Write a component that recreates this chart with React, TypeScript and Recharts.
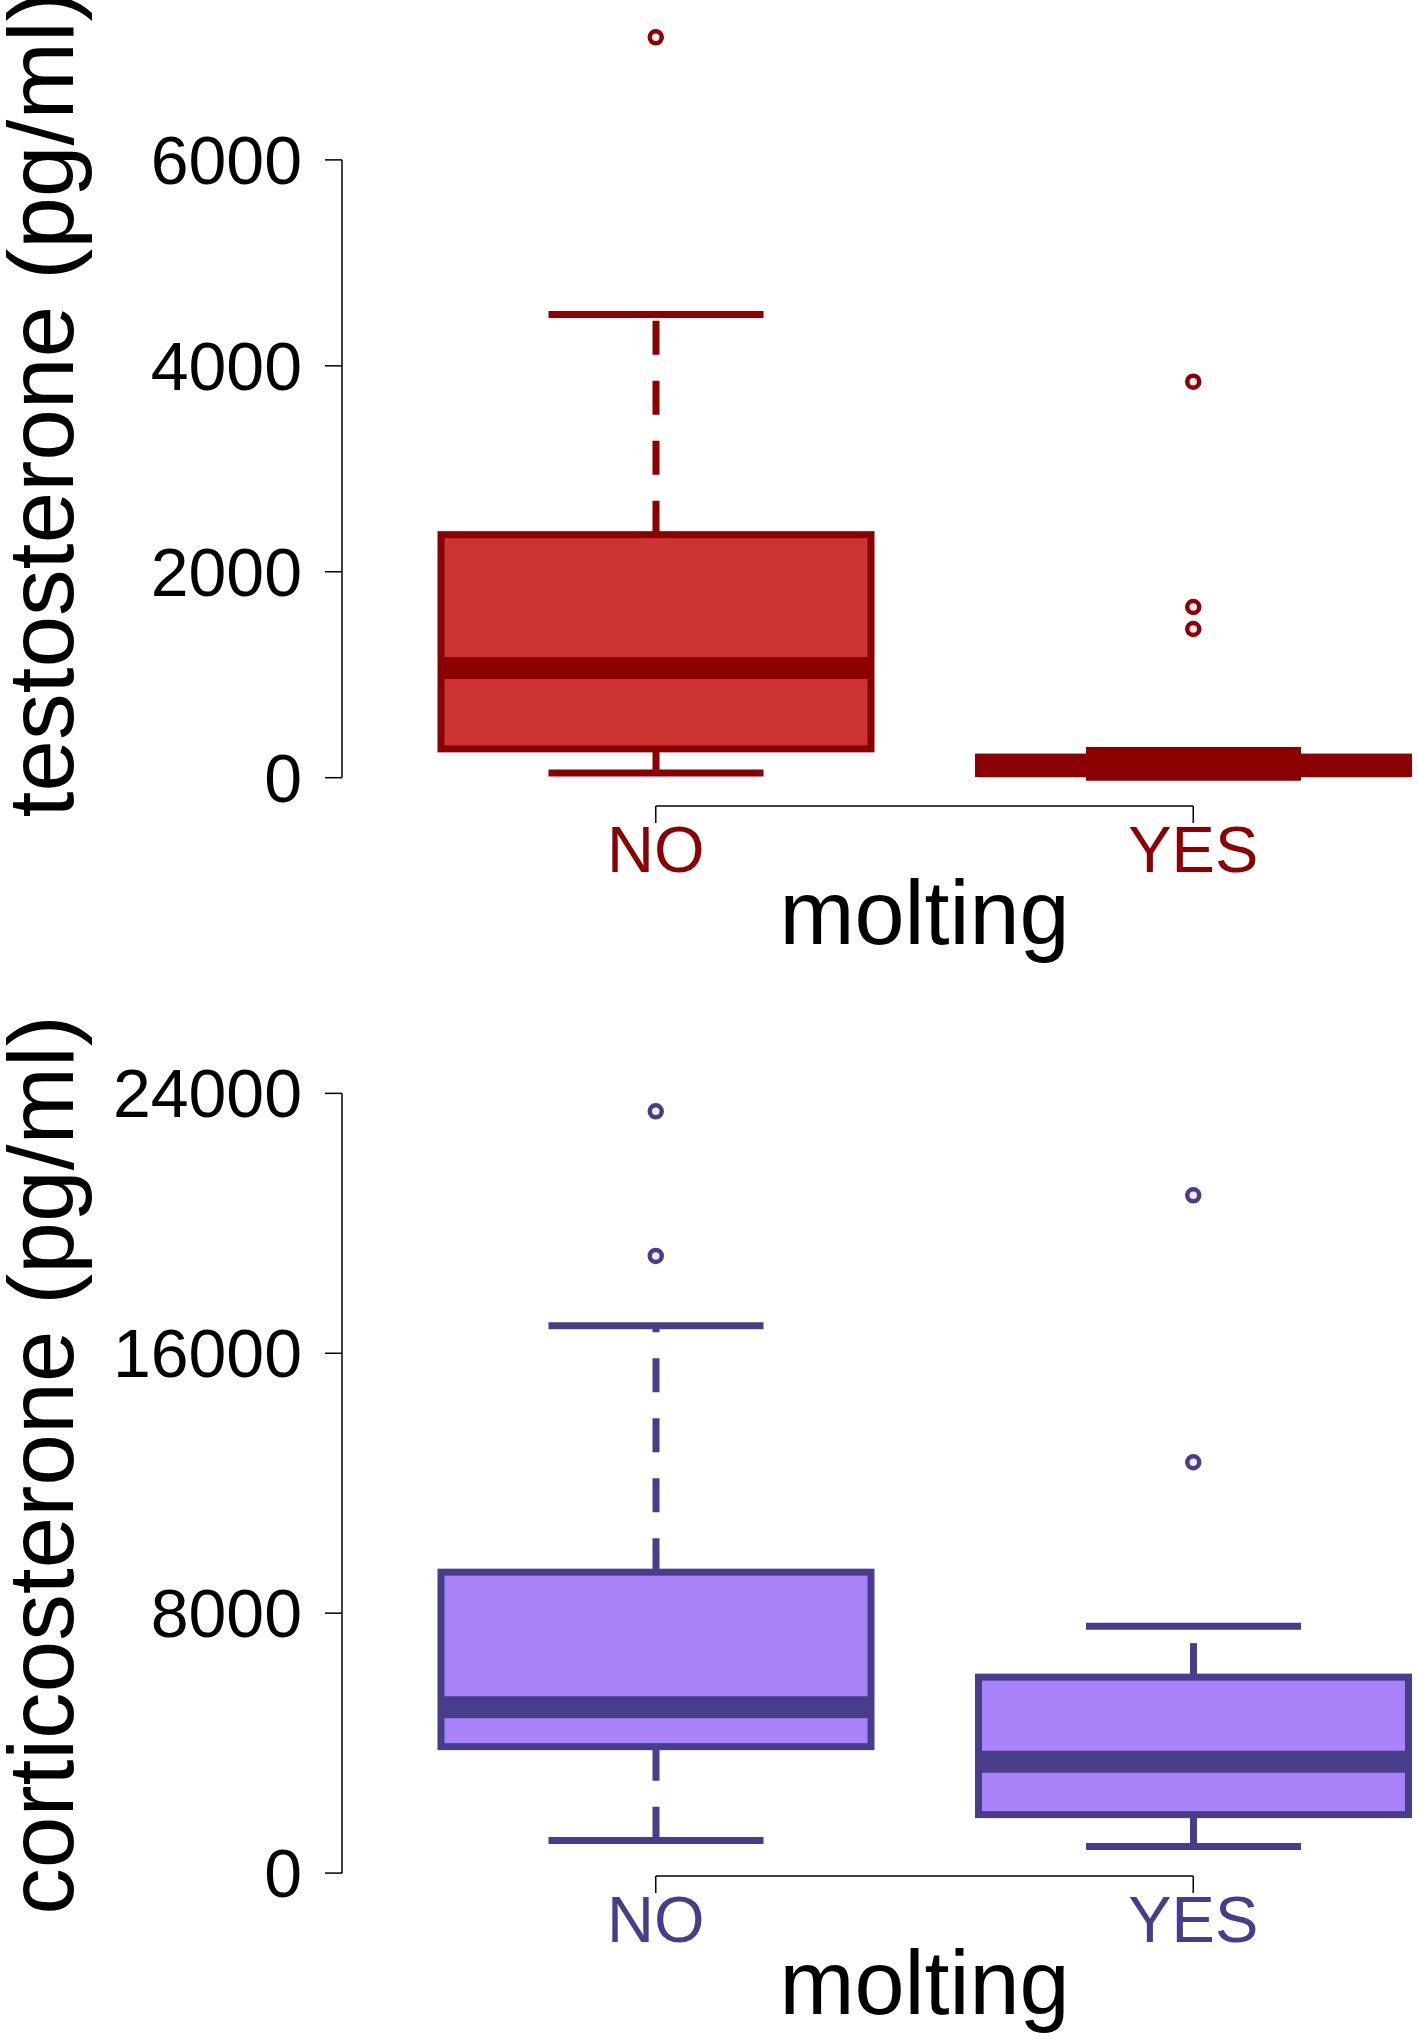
import React from 'react';
import { ComposedChart, Bar, Scatter, XAxis, YAxis, ReferenceLine } from 'recharts';

const groups = ['NO', 'YES'];

// testosterone (pg/ml), boxplot stats per group
const testoLow = [45, 5];
const testoQ1 = [280, 40];
const testoMedian = [1065, 110];
const testoQ3 = [2360, 200];
const testoHigh = [4498, 265];
const testoOutliers = [
  { name: 'NO', value: 7190 },
  { name: 'YES', value: 3846 },
  { name: 'YES', value: 1658 },
  { name: 'YES', value: 1444 },
];
const testoTicks = [0, 2000, 4000, 6000];

// corticosterone (pg/ml)
const cortLow = [1000, 815];
const cortQ1 = [3892, 1800];
const cortMedian = [5108, 3428];
const cortQ3 = [9262, 6031];
const cortHigh = [16849, 7600];
const cortOutliers = [
  { name: 'NO', value: 23446 },
  { name: 'NO', value: 18997 },
  { name: 'YES', value: 20862 },
  { name: 'YES', value: 12646 },
];
const cortTicks = [0, 8000, 16000, 24000];

const FONT = '"Liberation Sans", Arial, sans-serif';

const buildRows = (low: number[], q1: number[], med: number[], q3: number[], high: number[]) =>
  groups.map((name, i) => ({
    name,
    low: low[i],
    q1: q1[i],
    median: med[i],
    q3: q3[i],
    high: high[i],
    base: q1[i],
    iqr: q3[i] - q1[i],
  }));

const testoRows = buildRows(testoLow, testoQ1, testoMedian, testoQ3, testoHigh);
const cortRows = buildRows(cortLow, cortQ1, cortMedian, cortQ3, cortHigh);

const makeBox = (fill: string, line: string) => (props: any) => {
  const { x, y, width, height, payload } = props;
  const k = height / (payload.q3 - payload.q1);
  const yOf = (v: number) => y + (payload.q3 - v) * k;
  const cx = x + width / 2;
  const capHalf = width / 4;
  return (
    <g>
      <line x1={cx} x2={cx} y1={yOf(payload.q3)} y2={yOf(payload.high)} stroke={line} strokeWidth={7} strokeDasharray="34 26" />
      <line x1={cx} x2={cx} y1={yOf(payload.q1)} y2={yOf(payload.low)} stroke={line} strokeWidth={7} strokeDasharray="34 26" />
      <line x1={cx - capHalf} x2={cx + capHalf} y1={yOf(payload.high)} y2={yOf(payload.high)} stroke={line} strokeWidth={7} />
      <line x1={cx - capHalf} x2={cx + capHalf} y1={yOf(payload.low)} y2={yOf(payload.low)} stroke={line} strokeWidth={7} />
      <rect x={x} y={y} width={width} height={Math.max(height, 0.5)} fill={fill} stroke={line} strokeWidth={7} />
      <line x1={x} x2={x + width} y1={yOf(payload.median)} y2={yOf(payload.median)} stroke={line} strokeWidth={22} />
    </g>
  );
};

const makeDot = (line: string) => (props: any) => (
  <circle cx={props.cx} cy={props.cy} r={6} fill="#f4e8f0" stroke={line} strokeWidth={4.5} />
);

const YTick = (props: any) => (
  <text x={props.x} y={props.y} dy={24} textAnchor="end" fontSize={68} fontFamily={FONT} fill="#000">
    {props.payload.value}
  </text>
);

const makeXTick = (color: string) => (props: any) => (
  <text x={props.x} y={props.y} dy={49} textAnchor="middle" fontSize={65} fontFamily={FONT} fill={color}>
    {props.payload.value}
  </text>
);

const YTitle = ({ text, cy }: { text: string; cy: number }) => (
  <text
    x={73}
    y={cy}
    transform={`rotate(-90, 73, ${cy})`}
    textAnchor="middle"
    fontSize={93}
    fontFamily={FONT}
    fill="#000"
  >
    {text}
  </text>
);

const XTitle = (props: any) => {
  const vb = props.viewBox;
  return (
    <text x={vb.x + 45 + (vb.width - 45) / 2} y={vb.y + 138} textAnchor="middle" fontSize={90} fontFamily={FONT} fill="#000">
      molting
    </text>
  );
};

interface PanelProps {
  rows: any[];
  outliers: { name: string; value: number }[];
  ticks: number[];
  domain: [number, number];
  height: number;
  top: number;
  xAxisHeight: number;
  fill: string;
  line: string;
  title: string;
  titleY: number;
}

function Panel(p: PanelProps) {
  return (
    <ComposedChart
      width={1462}
      height={p.height}
      data={p.rows}
      margin={{ top: p.top, right: 0, bottom: 0, left: 0 }}
      barSize={430}
    >
      <XAxis
        dataKey="name"
        type="category"
        allowDuplicatedCategory={false}
        padding={{ left: 45, right: 0 }}
        height={p.xAxisHeight}
        axisLine={false}
        tickSize={17}
        tickMargin={0}
        tickLine={{ stroke: '#000', strokeWidth: 1.5 }}
        tick={makeXTick(p.line)}
        label={<XTitle />}
      />
      <XAxis xAxisId="num" type="number" domain={[0, 1]} hide allowDataOverflow />
      <YAxis
        type="number"
        width={342}
        domain={p.domain}
        ticks={p.ticks}
        allowDataOverflow
        axisLine={false}
        tickSize={17}
        tickMargin={23}
        tickLine={{ stroke: '#000', strokeWidth: 1.5 }}
        tick={<YTick />}
        label={<YTitle text={p.title} cy={p.titleY} />}
      />
      <ReferenceLine
        xAxisId="num"
        segment={[{ x: 0, y: p.ticks[0] }, { x: 0, y: p.ticks[p.ticks.length - 1] }]}
        stroke="#000"
        strokeWidth={1.5}
        ifOverflow="visible"
      />
      <ReferenceLine
        segment={[{ x: groups[0], y: p.domain[0] }, { x: groups[1], y: p.domain[0] }]}
        stroke="#000"
        strokeWidth={1.5}
        ifOverflow="visible"
      />
      <Bar dataKey="base" stackId="box" fill="none" isAnimationActive={false} />
      <Bar dataKey="iqr" stackId="box" shape={makeBox(p.fill, p.line)} isAnimationActive={false} />
      <Scatter data={p.outliers} dataKey="value" shape={makeDot(p.line)} isAnimationActive={false} />
    </ComposedChart>
  );
}

export default function App() {
  return (
    <div style={{ position: 'absolute', left: 0, top: 0, width: 1418, height: 2041, overflow: 'hidden', background: '#fff' }}>
      <div style={{ position: 'absolute', left: 0, top: 0 }}>
        <Panel
          rows={testoRows}
          outliers={testoOutliers}
          ticks={testoTicks}
          domain={[-275, 7475]}
          height={1000}
          top={8}
          xAxisHeight={194}
          fill="#CD3333"
          line="#8B0000"
          title="testosterone (pg/ml)"
          titleY={404}
        />
      </div>
      <div style={{ position: 'absolute', left: 0, top: 1000 }}>
        <Panel
          rows={cortRows}
          outliers={cortOutliers}
          ticks={cortTicks}
          domain={[-90, 24350]}
          height={1041}
          top={82}
          xAxisHeight={165}
          fill="#A883FA"
          line="#483D8B"
          title="corticosterone (pg/ml)"
          titleY={465}
        />
      </div>
    </div>
  );
}
